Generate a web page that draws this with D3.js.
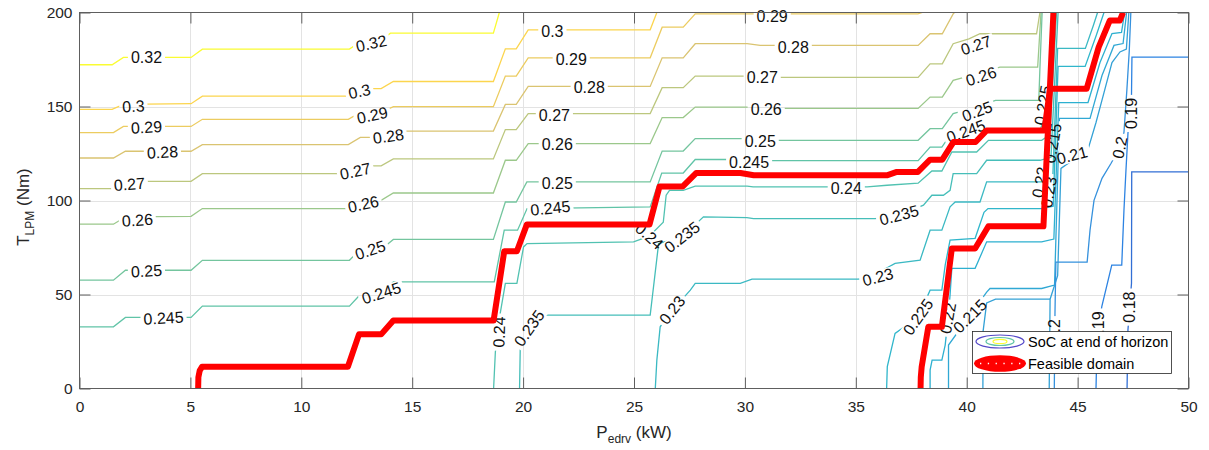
<!DOCTYPE html>
<html>
<head>
<meta charset="utf-8">
<script src="https://cdn.jsdelivr.net/npm/d3@7"></script>
<style>
  body { margin: 0; background: #fff; }
  svg { display: block; font-family: "Liberation Sans", Arial, Helvetica, sans-serif; }
</style>
</head>
<body>
<svg id="chart" width="1209" height="450"></svg>
<script>
// ---- data: [P_edrv (kW), T_LPM (Nm)] ----
const xTicks = [0, 5, 10, 15, 20, 25, 30, 35, 40, 45, 50];
const yTicks = [0, 50, 100, 150, 200];
const legendLabels = ['SoC at end of horizon', 'Feasible domain'];

const c032 = [[0,172.2],[1.47,172.2],[1.98,176.1],[5.03,176.1],[5.54,180.5],[12.17,180.5],[12.66,184.4],[13.5,184.4],[14.02,189.0],[18.66,189.0],[18.93,200]];
const c030 = [[0,148.5],[1.47,148.5],[1.98,151.1],[5.03,151.5],[5.54,155.5],[12.17,155.5],[12.66,159.5],[13.6,159.5],[14.15,163.3],[18.66,163.3],[19.2,180.7],[19.69,180.7],[20.23,190.8],[25.73,190.8],[26.03,200]];
const c029 = [[0,136.1],[1.53,136.1],[1.98,139.4],[5.03,139.4],[5.54,143.2],[12.12,143.2],[12.66,146.9],[13.6,146.9],[14.15,149.9],[18.66,149.9],[19.2,166.2],[19.69,166.2],[20.23,175.9],[25.73,175.9],[26.27,192.2],[27.22,192.2],[27.76,199.3],[37.8,199.3],[38.0,200]];
const c028 = [[0,122.6],[1.53,122.6],[2.07,126.2],[5.03,126.2],[5.54,129.7],[12.12,129.7],[12.66,133.6],[13.6,133.6],[14.15,136.9],[18.66,136.9],[19.2,151.1],[19.69,151.1],[20.23,160.7],[25.73,160.7],[26.27,175.9],[27.22,175.9],[27.76,183.4],[30.1,183.4],[30.69,182.5],[37.81,182.5],[38.35,188.7],[38.9,188.7],[39.39,199.3],[39.45,200]];
const c027 = [[0,106.3],[1.47,106.3],[1.98,110.2],[5.03,110.2],[5.54,114.3],[12.17,114.3],[12.66,118.4],[13.6,118.4],[14.15,122.1],[18.66,122.1],[19.2,137.7],[19.69,137.7],[20.23,146.2],[25.73,146.2],[26.27,160.0],[27.22,160.0],[27.76,166.2],[30.1,166.2],[30.69,165.5],[37.81,165.5],[38.35,172.7],[38.9,172.7],[39.39,183.4],[40.1,186],[40.6,188.7],[43.15,188.7],[43.3,200]];
const c026 = [[0,87.4],[1.53,87.4],[2.07,91.3],[5.03,91.6],[5.54,95.7],[12.17,95.7],[12.66,100.1],[13.6,100.1],[14.15,104.0],[18.66,104.0],[19.2,121.4],[19.69,121.4],[20.23,130.3],[25.73,130.3],[26.27,144.1],[27.22,144.1],[27.76,149.7],[30.1,149.7],[30.69,149.0],[37.81,149.0],[38.35,155.0],[38.9,155.0],[39.39,163.9],[40.5,167.5],[41.5,170.9],[43.2,170.9],[43.35,200]];
const c025 = [[0,57.6],[1.53,57.6],[2.07,62.9],[5.03,62.9],[5.54,68.2],[12.17,68.2],[12.66,74.0],[13.6,74.0],[14.15,79.3],[18.66,79.3],[19.2,99.2],[19.69,99.2],[20.17,109.9],[25.73,109.9],[26.27,126.3],[27.22,126.3],[27.76,132.9],[30.1,132.9],[30.69,132.0],[37.81,132.0],[38.35,138.2],[38.9,138.2],[39.39,146.2],[40.4,149.5],[41.3,153.3],[43.25,153.3],[43.3,170],[43.4,200]];
const c0245 = [[0,32.8],[1.53,32.8],[2.07,37.8],[5.03,37.8],[5.54,43.8],[12.17,43.8],[12.66,50.0],[13.6,50.0],[14.15,56.7],[18.7,56.7],[19.15,84.2],[19.75,84.2],[20.18,95.7],[25.73,96.6],[26.25,114.6],[27.22,114.6],[27.76,121.8],[30.1,121.8],[30.69,121.2],[37.81,121.2],[38.35,128.4],[38.88,128.4],[39.39,137.0],[40.9,137.3],[43.3,137.3],[43.7,150],[43.98,200]];
const c024 = [[18.67,0],[18.75,19.5],[18.97,40.1],[19.2,55.9],[19.72,55.9],[20.02,75.3],[20.18,77.1],[24.98,78.0],[25.69,81.0],[26.32,88.4],[26.45,102.8],[26.6,105.4],[27.22,105.4],[27.76,107.6],[30.1,107.6],[30.37,107.2],[35.51,107.2],[36.41,108.1],[37.81,109.2],[38.43,115.7],[38.88,115.7],[39.33,125.8],[40.45,125.8],[40.98,132.0],[43.38,132.0],[43.75,135],[44.05,200]];
const c0235 = [[19.84,0],[19.87,20.5],[20.28,32.1],[20.92,39.0],[25.73,39.0],[26.11,77.1],[27.17,80.5],[28.13,91.3],[30.09,90.9],[30.39,90.4],[35.87,90.4],[36.95,92.1],[38.05,97.5],[38.43,102.8],[38.95,102.8],[39.25,105.4],[39.39,114.3],[40.45,114.3],[40.9,121.4],[43.31,121.4],[43.8,123],[44.12,200]];
const c023 = [[25.96,0],[26.03,15.1],[26.18,32.8],[26.73,41.7],[27.54,52.3],[27.76,55.9],[29.79,55.9],[30.32,58.2],[35.12,58.2],[36.0,61.5],[36.77,66.5],[37.9,68.3],[38.35,84.2],[38.88,84.2],[39.25,96.6],[39.48,99.2],[40.6,99.2],[40.9,109.9],[43.38,109.9],[43.88,112],[44.1,180.9],[45.35,180.9],[45.71,193.1],[45.9,200]];
const c0225 = [[36.39,0],[36.42,11.6],[36.77,29.3],[37.81,38.0],[38.35,52.3],[38.88,52.3],[39.03,65.6],[39.25,78.9],[40.38,79.9],[40.78,93.7],[40.96,95.7],[43.38,95.7],[43.9,97],[44.12,171.3],[45.34,171.3],[45.84,187.8],[46.19,200]];
const c022 = [[38.35,0],[38.35,9.8],[38.44,15.1],[38.88,15.1],[39.03,23.1],[39.16,37.4],[39.25,49.7],[39.33,63.9],[40.38,63.9],[40.9,78.0],[43.38,78.0],[43.93,79.5],[44.15,152.1],[45.47,152.1],[46.01,173.4],[46.55,188.8],[46.98,189.4],[47.12,200]];
const c0215 = [[39.18,0],[39.18,23.1],[40.9,51.3],[41.05,53.2],[43.38,53.2],[43.96,55],[44.18,143.7],[45.56,143.7],[46.1,166.5],[46.64,182.5],[47.05,183.5],[47.21,200]];
const c021a = [[40.73,0],[40.74,30.5],[40.9,45.5],[41.3,47.5],[43.76,47.5]];
const c021b = [[43.72,0],[43.76,47.5],[44.1,60],[44.25,117.1],[45.47,127.2],[45.83,141.5],[46.19,157.4],[46.55,173.4],[46.91,179.0],[47.2,180.5],[47.31,200]];
const c020 = [[43.95,0],[43.98,40],[44.02,67.2],[45.43,67.2],[45.56,84.2],[45.74,100.1],[46.1,111.8],[46.51,119.8],[46.91,128.2],[47.09,136.2],[47.22,158.6],[47.33,179.8],[47.4,200]];
const c019 = [[45.83,0],[45.88,25.8],[46.09,43.5],[46.54,65.6],[46.99,65.6],[47.09,94.8],[47.18,116.0],[47.27,135.7],[47.43,155.9],[47.45,176.3],[50,176.3]];
const c018 = [[47.23,0],[47.27,31.1],[47.43,56.0],[47.44,115.2],[50,115.2]];

const feasibleA = [[5.35,0],[5.36,6],[5.42,9.5],[5.53,11.6],[12.1,11.6],[12.6,28.8],[13.6,28.8],[14.15,36.2],[18.67,36.2],[19.15,73.0],[19.72,73.0],[20.17,87.3],[25.7,87.3],[26.15,107.5],[27.2,107.5],[27.8,114.6],[29.8,114.6],[30.4,113.4],[36.4,113.4],[36.85,115.2],[37.8,115.2],[38.35,121.7],[38.9,121.7],[39.4,131.1],[40.4,131.1],[40.9,137.3],[43.5,137.3],[43.76,159.5],[45.41,159.5],[45.95,181.6],[46.45,195.7],[46.9,195.7],[47.05,200]];
const feasibleB = [[37.92,0],[37.93,6],[37.97,11.6],[38.27,32.8],[38.88,32.8],[39.33,74.5],[40.38,74.5],[40.98,86.3],[43.46,86.3],[43.91,200]];

// contour labels: [level, P, T, rotation]
const labelData = [
  [0.32,3.02,176.1,0],[0.32,13.16,183.5,-12],
  [0.3,2.43,150.1,-3],[0.3,12.62,158.0,-12],[0.3,21.32,189.9,0],
  [0.29,3.02,138.9,-3],[0.29,13.2,145.3,-12],[0.29,22.17,175.0,0],[0.29,31.23,197.9,0],
  [0.28,3.74,125.6,-3],[0.28,13.93,134.1,-8],[0.28,22.98,160.2,0],[0.28,32.18,181.4,0],
  [0.27,2.25,108.6,-4],[0.27,12.44,115.5,-12],[0.27,21.41,145.3,0],[0.27,30.78,165.5,0],[0.27,40.42,182.5,-18],
  [0.26,2.61,89.5,-4],[0.26,12.8,98.0,-12],[0.26,21.54,129.9,0],[0.26,30.96,148.5,0],[0.26,40.65,166.0,-18],
  [0.25,3.02,62.4,-3],[0.25,13.11,73.6,-18],[0.25,21.54,109.2,0],[0.25,30.69,131.5,0],[0.25,40.47,147.4,-20],
  [0.245,3.79,37.4,-3],[0.245,13.61,50.7,-18],[0.245,21.23,95.9,-6],[0.245,30.19,120.3,0],[0.245,39.97,136.8,-20],
  [0.24,18.93,30.0,-88],[0.24,25.69,81.0,42],[0.24,34.57,106.6,0],
  [0.235,20.28,32.1,-55],[0.235,27.17,80.5,-38],[0.235,36.95,92.1,-15],
  [0.23,26.73,41.7,-52],[0.23,36.0,59.2,-15],
  [0.225,37.81,38.0,-55],[0.22,39.16,37.4,-80],[0.215,40.15,38.5,-45],
  [0.21,44.75,124.0,-15],
  [0.2,46.91,128.2,-78],[0.2,43.97,31.0,-90],
  [0.19,47.41,146.3,-90],[0.19,45.92,32.7,-90],
  [0.18,47.36,43.3,-90],
  [0.225,43.44,150.6,-80],[0.215,43.89,130.4,-80],[0.22,43.31,109.7,-80],[0.23,43.71,104.4,-80]
];

const contourLines = [
  [0.32,c032],[0.3,c030],[0.29,c029],[0.28,c028],[0.27,c027],[0.26,c026],[0.25,c025],
  [0.245,c0245],[0.24,c024],[0.235,c0235],[0.23,c023],[0.225,c0225],[0.22,c022],
  [0.215,c0215],[0.21,c021a],[0.21,c021b],[0.2,c020],[0.19,c019],[0.18,c018]
];
const levels = [...new Set(contourLines.map((d) => d[0]))];

// ---- drawing ----
const W = 1209, H = 450;
const x = d3.scaleLinear().domain([0, 50]).range([79.5, 1188.5]);
const y = d3.scaleLinear().domain([0, 200]).range([388.5, 12.5]);

const parula = d3.piecewise(d3.interpolateRgb, ['#352A87','#0363E1','#1485D4','#06A7C6','#38B99E','#92BF73','#D9BA56','#FCCE2E','#F9FB0E']);
// thin antialiased lines look paler than the raw colormap
const color = (v) => d3.interpolateRgb(
  parula(Math.max(0, Math.min(1, (v - 0.165) / (0.32 - 0.165)))), '#fff')(0.15);

const svg = d3.select('#chart');
const defs = svg.append('defs');
defs.append('clipPath').attr('id', 'plot-clip')
  .append('rect').attr('x', x(0)).attr('y', y(200))
  .attr('width', x(50) - x(0)).attr('height', y(0) - y(200));

// grid
const grid = svg.append('g').attr('stroke', '#e3e3e3').attr('stroke-width', 1);
grid.selectAll('line.gx').data(xTicks.slice(1, -1)).join('line').attr('class', 'gx')
  .attr('x1', (d) => Math.round(x(d)) + 0.5).attr('x2', (d) => Math.round(x(d)) + 0.5)
  .attr('y1', y(200)).attr('y2', y(0));
grid.selectAll('line.gy').data(yTicks.slice(1, -1)).join('line').attr('class', 'gy')
  .attr('x1', x(0)).attr('x2', x(50))
  .attr('y1', (d) => Math.round(y(d)) + 0.5).attr('y2', (d) => Math.round(y(d)) + 0.5);

const contourG = svg.append('g').attr('clip-path', 'url(#plot-clip)');
const labelG = svg.append('g');
const redG = svg.append('g').attr('clip-path', 'url(#plot-clip)');

// labels first, so their sizes can cut the lines
const labels = labelG.selectAll('text').data(labelData).join('text')
  .attr('transform', (d) => `translate(${x(d[1])},${y(d[2])}) rotate(${d[3]})`)
  .attr('text-anchor', 'middle')
  .attr('dominant-baseline', 'central')
  .attr('font-size', 16)
  .attr('fill', '#111')
  .text((d) => String(d[0]));
labels.each(function (d) { d.w = this.getComputedTextLength(); });

levels.forEach((lev, i) => {
  const m = defs.append('mask').attr('id', 'm' + i)
    .attr('maskUnits', 'userSpaceOnUse')
    .attr('x', 0).attr('y', 0).attr('width', W).attr('height', H);
  m.append('rect').attr('width', W).attr('height', H).attr('fill', '#fff');
  m.selectAll('rect.cut').data(labelData.filter((l) => l[0] === lev)).join('rect')
    .attr('class', 'cut')
    .attr('transform', (d) => `translate(${x(d[1])},${y(d[2])}) rotate(${d[3]})`)
    .attr('x', (d) => -d.w / 2 - 3).attr('y', -7)
    .attr('width', (d) => d.w + 6).attr('height', 14)
    .attr('fill', '#000');
});

const line = d3.line().x((d) => x(d[0])).y((d) => y(d[1]));

contourG.selectAll('path').data(contourLines).join('path')
  .attr('d', (d) => line(d[1]))
  .attr('fill', 'none')
  .attr('stroke', (d) => color(d[0]))
  .attr('stroke-width', 1.3)
  .attr('mask', (d) => `url(#m${levels.indexOf(d[0])})`);

redG.selectAll('path').data([feasibleA, feasibleB]).join('path')
  .attr('d', line)
  .attr('fill', 'none')
  .attr('stroke', '#ff0000')
  .attr('stroke-width', 6)
  .attr('stroke-linejoin', 'round');

// axes (box with inward ticks on all four sides)
const axisColor = '#5e5e5e';
const styleAxis = (g) => {
  g.select('.domain').remove();
  g.selectAll('.tick line').attr('stroke', axisColor);
  g.selectAll('.tick text').attr('fill', '#262626').attr('font-size', 15.5)
    .attr('font-family', '"Liberation Sans", Arial, sans-serif');
};
svg.append('g').attr('transform', `translate(0,${y(0)})`)
  .call(d3.axisBottom(x).tickValues(xTicks).tickSizeInner(-11).tickSizeOuter(0).tickPadding(12.5))
  .call(styleAxis);
svg.append('g').attr('transform', `translate(0,${y(200)})`)
  .call(d3.axisTop(x).tickValues(xTicks).tickSizeInner(-11).tickSizeOuter(0).tickFormat(''))
  .call(styleAxis);
svg.append('g').attr('transform', `translate(${x(0)},0)`)
  .call(d3.axisLeft(y).tickValues(yTicks).tickSizeInner(-11).tickSizeOuter(0).tickPadding(7))
  .call(styleAxis);
svg.append('g').attr('transform', `translate(${x(50)},0)`)
  .call(d3.axisRight(y).tickValues(yTicks).tickSizeInner(-11).tickSizeOuter(0).tickFormat(''))
  .call(styleAxis);
svg.append('rect')
  .attr('x', x(0)).attr('y', y(200))
  .attr('width', x(50) - x(0)).attr('height', y(0) - y(200))
  .attr('fill', 'none').attr('stroke', axisColor).attr('stroke-width', 1);

// axis titles
const xt = svg.append('text').attr('x', 634).attr('y', 438)
  .attr('text-anchor', 'middle').attr('font-size', 17).attr('fill', '#262626');
xt.append('tspan').text('P');
xt.append('tspan').attr('font-size', 12).attr('dy', 5).text('edrv');
xt.append('tspan').attr('dy', -5).text(' (kW)');

const yt = svg.append('text').attr('transform', 'translate(29,207) rotate(-90)')
  .attr('text-anchor', 'middle').attr('font-size', 17).attr('fill', '#262626');
yt.append('tspan').text('T');
yt.append('tspan').attr('font-size', 12).attr('dy', 5).text('LPM');
yt.append('tspan').attr('dy', -5).text(' (Nm)');

// legend
const lg = svg.append('g');
lg.append('rect').attr('x', 972.5).attr('y', 331.5).attr('width', 199).attr('height', 42)
  .attr('fill', '#fff').attr('stroke', '#262626').attr('stroke-width', 0.8);
const soc = lg.append('g').attr('fill', 'none').attr('stroke-width', 1.2);
soc.append('ellipse').attr('cx', 1000).attr('cy', 341.5).attr('rx', 24).attr('ry', 6.5).attr('stroke', '#5448c8');
soc.append('ellipse').attr('cx', 1000).attr('cy', 341.5).attr('rx', 14).attr('ry', 4).attr('stroke', color(0.245));
soc.append('ellipse').attr('cx', 1000).attr('cy', 341.5).attr('rx', 7).attr('ry', 2.2).attr('stroke', color(0.32));
lg.append('ellipse').attr('cx', 1000).attr('cy', 363.5).attr('rx', 26).attr('ry', 8.3).attr('fill', '#ff0000');
lg.append('line').attr('x1', 980).attr('x2', 1022).attr('y1', 363.5).attr('y2', 363.5)
  .attr('stroke', '#fff').attr('stroke-width', 1.3).attr('stroke-dasharray', '1.3 6.5');
lg.selectAll('text').data(legendLabels).join('text')
  .attr('x', 1028).attr('y', (d, i) => 347 + i * 21.5)
  .attr('font-size', 14.5).attr('fill', '#000')
  .text((d) => d);
</script>
</body>
</html>
